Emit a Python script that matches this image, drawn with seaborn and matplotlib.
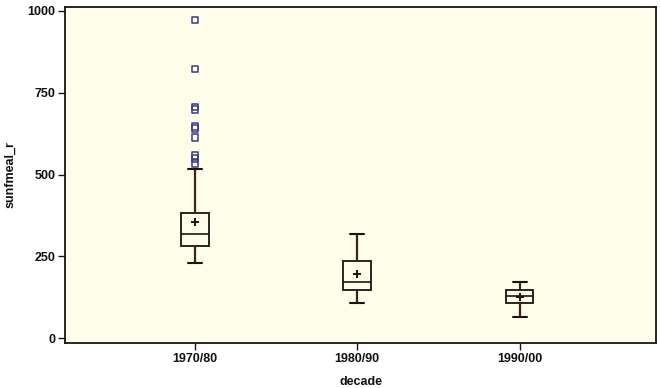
import matplotlib
matplotlib.use("Agg")
import matplotlib.pyplot as plt
import seaborn as sns
import pandas as pd

# ---- data ----
decades = ["1970/80", "1980/90", "1990/00"]
whisk_lo = [229, 107, 64]
q1 = [280, 146, 107]
median = [317, 171, 128]
q3 = [381, 235, 146]
whisk_hi = [518, 317, 171]
means = [354, 195, 126]
outlier_decade = ["1970/80"] * 10
outlier_values = [973, 823, 707, 698, 646, 640, 613, 558, 549, 534]

sns.set_theme(style="white")
plt.rcParams["font.family"] = ["Liberation Sans", "DejaVu Sans"]

fig = plt.figure(figsize=(6.61, 3.88), dpi=100)
fig.patch.set_facecolor("white")
ax = fig.add_axes([65 / 661, 1 - 343 / 388, (656 - 65) / 661, (343 - 7) / 388])
ax.set_facecolor("#fdfde9")

pos = {d: i for i, d in enumerate(decades)}
stats = []
for i, d in enumerate(decades):
    stats.append(dict(label=d, whislo=whisk_lo[i], q1=q1[i], med=median[i],
                      q3=q3[i], whishi=whisk_hi[i], mean=means[i], fliers=[]))

line_col = "#3b2414"
ax.bxp(stats, positions=list(range(len(decades))), widths=0.17,
       showmeans=False, showfliers=False, patch_artist=True,
       boxprops=dict(facecolor="none", edgecolor="#1a1410", linewidth=1.3),
       medianprops=dict(color="#1a1410", linewidth=1.2),
       whiskerprops=dict(color=line_col, linewidth=1.6),
       capprops=dict(color="#1a1410", linewidth=1.5),
       capwidths=0.086, manage_ticks=False)

mean_df = pd.DataFrame({"x": [pos[d] for d in decades], "y": means})
sns.scatterplot(data=mean_df, x="x", y="y", marker="+", s=35, color="#1a1410",
                linewidth=1.4, ax=ax, zorder=5, legend=False)

out_df = pd.DataFrame({"x": [pos[d] for d in outlier_decade], "y": outlier_values})
sns.scatterplot(data=out_df, x="x", y="y", marker="s", s=22, facecolor="none",
                edgecolor="#3a3a8c", linewidth=1.1, ax=ax, zorder=5, legend=False)

ax.set_xlim(-0.80, 2.84)
ax.set_ylim(-15, 1012)
ax.set_xticks(range(len(decades)))
ax.set_xticklabels(decades)
ax.set_yticks([0, 250, 500, 750, 1000])
ax.tick_params(axis="both", which="both", direction="out", length=5, width=1,
               color="#1a1410", labelsize=9, left=True, bottom=True, pad=2)
for lab in ax.get_xticklabels() + ax.get_yticklabels():
    lab.set_fontweight("bold")
    lab.set_color("#111111")
for sp in ax.spines.values():
    sp.set_color("#1a1410")
    sp.set_linewidth(1.3)
    sp.set_visible(True)

ax.set_xlabel("decade", fontsize=9, fontweight="bold", labelpad=8, color="#111111")
ax.set_ylabel("sunfmeal_r", fontsize=9, fontweight="bold", labelpad=8, color="#111111")

fig.savefig("out.png", dpi=100, facecolor="white")
